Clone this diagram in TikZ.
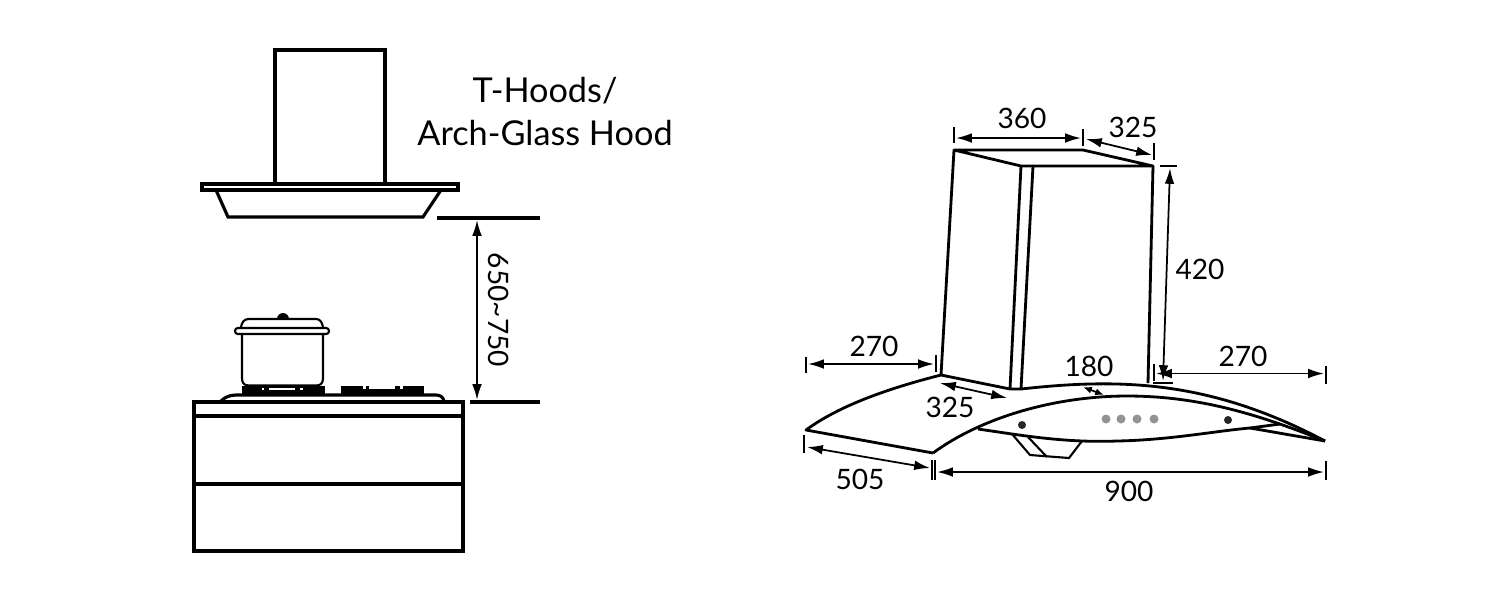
\documentclass[tikz,border=0pt]{standalone}
\usepackage{fontspec}
\setmainfont{Lato}
\usepackage{tikz}
\usetikzlibrary{arrows.meta}
\tikzset{
    heavyline/.style={line width=1.8pt, line join=miter},
    outline/.style={line width=1.6pt, line join=round},
    thinline/.style={line width=1.2pt},
    dimline/.style={line width=1pt, {Latex[length=9pt,width=5.5pt]}-{Latex[length=9pt,width=5.5pt]}},
    shortdim/.style={line width=1pt, {Latex[length=5pt,width=4pt]}-{Latex[length=5pt,width=4pt]}},
    dimtick/.style={line width=1pt},
    dimtext/.style={font=\fontsize{16}{18}\selectfont, inner sep=0pt},
    titletext/.style={font=\fontsize{19.5}{22}\selectfont, inner sep=0pt},
}

\begin{document}
\begin{tikzpicture}[x=0.02cm, y=-0.02cm]
        \useasboundingbox (0,0) rectangle (1500,600);

        % left view: hood
        \draw[heavyline] (275,183)--(275,50)--(385,50)--(385,183);
        \draw[heavyline] (202,184) rectangle (458,190);
        \draw[heavyline] (216,190)--(228,217)--(423,217)--(441,190);
        \node[titletext] (hoodtitle) at (545,91) {T-Hoods/};
        \node[titletext] (hoodname) at (545,133) {Arch-Glass Hood};

        % left view: clearance
        \draw[heavyline] (437,218)--(540,218);
        \draw[heavyline] (470,402)--(540,402);
        \draw[dimline] (477,220)--(477,400);
        \node[dimtext, rotate=-90] (clearance) at (499,310) {650\textasciitilde750};

        % left view: cabinet
        \draw[heavyline] (194,402) rectangle (463,551);
        \draw[heavyline] (194,416)--(463,416);
        \draw[heavyline] (194,484)--(463,484);

        % hob and burners
        \draw[heavyline] (221,401) .. controls (225,397) and (230,395) .. (236,395)--(436,395) .. controls (440,395) and (443,397) .. (444,401);
        \fill (242,386) rectangle (325,394);
        \fill[white] (269,387.5) rectangle (295,390);
        \fill[white] (262,387.5) rectangle (264,390);
        \fill[white] (300,387.5) rectangle (303,390);
        \fill (341,386) rectangle (363,394);
        \fill (363,389) rectangle (424,394);
        \fill (366,386) rectangle (369,394);
        \fill (395,386) rectangle (400,394);
        \fill (403,386) rectangle (424,392);

        % pot
        \draw[thinline] (242,334)--(242,378) .. controls (242,383) and (244,385.5) .. (249,385.5)--(316,385.5) .. controls (321,385.5) and (323,383) .. (323,378)--(323,334);
        \draw[thinline] (241,327) .. controls (242,322) and (244,319) .. (249,319)--(316,319) .. controls (320,319) and (322,322) .. (323,327);
        \draw[thinline, rounded corners=1.6pt] (235,328) rectangle (329,334);
        \fill (277,319) arc (180:360:6) -- cycle;

        % right view: chimney
        \draw[outline] (954,150)--(1083,150)--(1153,166)--(1021,166)--cycle;
        \draw[outline] (954,150)--(941,375)--(1010,389)--(1021,389);
        \draw[outline] (1021,166)--(1010,389);
        \draw[outline] (1033,166)--(1021,389);
        \draw[outline] (1153,166)--(1148,383);

        % right view: glass canopy
        \draw[outline] (941,375) .. controls (890,388) and (840,405) .. (806,430)--(933,453);
        \draw[outline] (933,453) .. controls (985,415) and (1060,396) .. (1127,396) .. controls (1200,396) and (1260,415) .. (1325,441);
        \draw[outline] (1021,389) .. controls (1120,378) and (1210,380) .. (1325,441);
        \draw[outline] (978,429)--(1012,434) .. controls (1060,441) and (1090,442) .. (1117,441) .. controls (1170,440) and (1215,431) .. (1250,428)--(1280,424);
        \draw[outline] (1250,428)--(1325,441);

        % bracket
        \draw[thinline] (1012,434)--(1030,455)--(1069,458)--(1082,441);
        \draw[thinline] (1028,437)--(1047,457);

        % control buttons
        \foreach \bx in {1106,1121,1137,1154}
            \fill[gray!85] (\bx,419) circle[radius=4.5];
        \fill[black!85] (1022,425) circle[radius=4];
        \fill[black!85] (1228,420) circle[radius=4];

        % dimensions, top
        \draw[dimtick] (954,127)--(954,143);
        \draw[dimtick] (1083,129)--(1083,146);
        \draw[dimtick] (1154,143)--(1154,160);
        \draw[dimline] (956,138)--(1081,138);
        \draw[dimline] (1086,139)--(1152,155);
        \node[dimtext] (chimwidth) at (1022,118) {360};
        \node[dimtext] (chimdepth) at (1133,127) {325};

        % dimensions, height
        \draw[dimtick] (1160,166)--(1177,166);
        \draw[dimtick] (1153,383)--(1173,383);
        \draw[dimline] (1170,168)--(1163,381);
        \node[dimtext] (chimheight) at (1200,269) {420};

        % dimensions, overhang
        \draw[dimtick] (806,357)--(806,373);
        \draw[dimtick] (936,355)--(936,372);
        \draw[dimline] (808,364)--(934,364);
        \node[dimtext] (leftover) at (874,346) {270};
        \draw[dimtick] (1154,364)--(1154,381);
        \draw[dimtick] (1326,366)--(1326,384);
        \draw[dimline] (1156,373.5)--(1324,373.5);
        \node[dimtext] (rightover) at (1243,356) {270};

        % dimensions, canopy
        \draw[dimline] (940,383)--(1007,398);
        \node[dimtext] (canopydepth) at (950,407) {325};
        \draw[shortdim] (1083,387)--(1104,395);
        \node[dimtext] (glassgap) at (1089,366) {180};
        \draw[dimtick] (804,435)--(804,453);
        \draw[dimtick] (932,460)--(932,480);
        \draw[dimtick] (935,460)--(935,480);
        \draw[dimline] (807,447)--(930,468);
        \node[dimtext] (sidedepth) at (860,479) {505};
        \draw[dimtick] (1326,461)--(1326,480);
        \draw[dimline] (937,472)--(1324,472);
        \node[dimtext] (fullwidth) at (1129,491) {900};
    \end{tikzpicture}
\end{document}
